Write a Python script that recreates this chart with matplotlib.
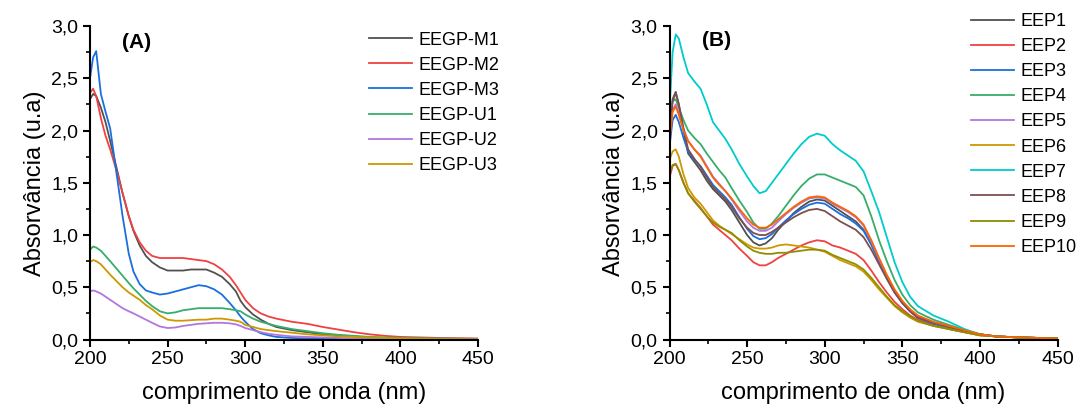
import matplotlib.pyplot as plt
from matplotlib.ticker import MultipleLocator, FuncFormatter

plt.rcParams['font.family'] = ['Liberation Sans', 'DejaVu Sans']

# panel A: EEGP samples
wl_a = [200, 202, 204, 207, 210, 213, 217, 221, 225, 228, 232, 236, 240, 245, 250, 255, 260, 265,
        270, 275, 280, 285, 290, 294, 297, 300, 305, 310, 315, 320, 330, 340, 350, 360, 370, 380,
        390, 400, 425, 450]
m1 = [2.30, 2.35, 2.33, 2.22, 2.08, 1.90, 1.65, 1.40, 1.18, 1.04, 0.90, 0.80, 0.74, 0.69, 0.66, 0.66, 0.66, 0.67,
      0.67, 0.67, 0.64, 0.60, 0.53, 0.46, 0.37, 0.31, 0.24, 0.19, 0.15, 0.12, 0.09, 0.07, 0.05, 0.04, 0.03, 0.02,
      0.015, 0.01, 0.005, 0.0]
m2 = [2.36, 2.40, 2.33, 2.12, 1.95, 1.82, 1.62, 1.40, 1.18, 1.05, 0.93, 0.85, 0.80, 0.78, 0.78, 0.78, 0.78, 0.77,
      0.76, 0.75, 0.72, 0.67, 0.60, 0.52, 0.45, 0.38, 0.30, 0.25, 0.22, 0.20, 0.17, 0.15, 0.12, 0.095, 0.07, 0.05,
      0.035, 0.025, 0.015, 0.01]
m3 = [2.50, 2.70, 2.76, 2.35, 2.18, 2.02, 1.60, 1.18, 0.82, 0.65, 0.53, 0.47, 0.45, 0.43, 0.44, 0.46, 0.48, 0.50,
      0.52, 0.51, 0.48, 0.43, 0.35, 0.28, 0.22, 0.17, 0.10, 0.06, 0.04, 0.025, 0.015, 0.01, 0.01, 0.005, 0.005, 0.0,
      0.0, 0.0, 0.0, 0.0]
u1 = [0.86, 0.89, 0.88, 0.85, 0.80, 0.75, 0.68, 0.61, 0.54, 0.49, 0.43, 0.37, 0.32, 0.27, 0.25, 0.26, 0.28, 0.29,
      0.30, 0.30, 0.30, 0.30, 0.29, 0.28, 0.27, 0.24, 0.20, 0.17, 0.15, 0.13, 0.10, 0.08, 0.06, 0.045, 0.035, 0.025,
      0.02, 0.015, 0.01, 0.005]
u2 = [0.46, 0.47, 0.46, 0.44, 0.41, 0.38, 0.34, 0.30, 0.27, 0.25, 0.22, 0.19, 0.16, 0.125, 0.11, 0.115, 0.13, 0.14,
      0.15, 0.155, 0.16, 0.16, 0.155, 0.145, 0.13, 0.11, 0.09, 0.07, 0.055, 0.045, 0.03, 0.025, 0.02, 0.015, 0.01, 0.01,
      0.005, 0.005, 0.0, 0.0]
u3 = [0.74, 0.76, 0.75, 0.72, 0.67, 0.62, 0.56, 0.50, 0.45, 0.42, 0.38, 0.33, 0.29, 0.23, 0.19, 0.18, 0.18, 0.185,
      0.19, 0.19, 0.20, 0.20, 0.19, 0.18, 0.17, 0.14, 0.12, 0.10, 0.09, 0.08, 0.065, 0.05, 0.04, 0.03, 0.025, 0.02,
      0.015, 0.01, 0.005, 0.0]

# panel B: EEP samples
wl_b = [200, 202, 204, 206, 209, 212, 216, 220, 224, 228, 232, 236, 240, 245, 250, 254, 258, 262,
        266, 270, 275, 280, 285, 290, 295, 300, 305, 310, 315, 320, 325, 330, 335, 340, 345, 350,
        355, 360, 370, 380, 390, 400, 410, 425, 450]
eep1 = [2.00, 2.30, 2.37, 2.25, 2.00, 1.78, 1.70, 1.62, 1.52, 1.44, 1.38, 1.32, 1.24, 1.12, 1.00, 0.93, 0.90, 0.92,
        0.97, 1.05, 1.13, 1.21, 1.27, 1.32, 1.34, 1.33, 1.28, 1.23, 1.18, 1.13, 1.05, 0.91, 0.75, 0.60, 0.46, 0.35,
        0.27, 0.21, 0.15, 0.11, 0.08, 0.05, 0.03, 0.02, 0.01]
eep2 = [1.55, 1.66, 1.68, 1.62, 1.50, 1.40, 1.33, 1.26, 1.18, 1.10, 1.05, 1.00, 0.95, 0.87, 0.80, 0.74, 0.71, 0.71,
        0.74, 0.78, 0.82, 0.86, 0.90, 0.93, 0.95, 0.94, 0.90, 0.88, 0.85, 0.82, 0.76, 0.66, 0.55, 0.45, 0.36, 0.29,
        0.23, 0.19, 0.14, 0.10, 0.07, 0.04, 0.03, 0.02, 0.01]
eep3 = [1.85, 2.10, 2.15, 2.08, 1.93, 1.80, 1.72, 1.66, 1.57, 1.48, 1.42, 1.36, 1.29, 1.17, 1.06, 0.99, 0.96, 0.97,
        1.01, 1.07, 1.14, 1.20, 1.25, 1.29, 1.31, 1.30, 1.25, 1.20, 1.16, 1.11, 1.04, 0.91, 0.75, 0.59, 0.45, 0.35,
        0.27, 0.21, 0.15, 0.11, 0.08, 0.05, 0.03, 0.02, 0.01]
eep4 = [2.10, 2.28, 2.30, 2.22, 2.10, 2.00, 1.93, 1.87, 1.78, 1.70, 1.62, 1.55, 1.45, 1.33, 1.22, 1.12, 1.06, 1.06,
        1.11, 1.18, 1.28, 1.38, 1.47, 1.54, 1.58, 1.58, 1.55, 1.52, 1.49, 1.46, 1.38, 1.18, 0.95, 0.75, 0.57, 0.43,
        0.33, 0.26, 0.19, 0.14, 0.09, 0.05, 0.03, 0.02, 0.01]
eep5 = [1.95, 2.20, 2.25, 2.17, 2.02, 1.90, 1.82, 1.76, 1.66, 1.56, 1.49, 1.42, 1.34, 1.23, 1.13, 1.07, 1.04, 1.04,
        1.07, 1.13, 1.20, 1.26, 1.31, 1.35, 1.36, 1.35, 1.30, 1.26, 1.22, 1.17, 1.09, 0.94, 0.77, 0.61, 0.47, 0.36,
        0.28, 0.22, 0.16, 0.12, 0.08, 0.05, 0.03, 0.02, 0.01]
eep6 = [1.72, 1.80, 1.82, 1.75, 1.58, 1.45, 1.36, 1.30, 1.22, 1.14, 1.09, 1.05, 1.01, 0.96, 0.91, 0.88, 0.87, 0.87,
        0.88, 0.90, 0.91, 0.90, 0.89, 0.88, 0.86, 0.84, 0.80, 0.76, 0.73, 0.70, 0.65, 0.57, 0.48, 0.40, 0.32, 0.26,
        0.21, 0.17, 0.13, 0.10, 0.07, 0.04, 0.03, 0.02, 0.01]
eep7 = [2.20, 2.75, 2.92, 2.88, 2.70, 2.55, 2.47, 2.40, 2.25, 2.08, 2.00, 1.92, 1.82, 1.68, 1.56, 1.47, 1.40, 1.42,
        1.50, 1.58, 1.68, 1.78, 1.87, 1.94, 1.97, 1.95, 1.87, 1.81, 1.76, 1.71, 1.61, 1.42, 1.22, 0.98, 0.74, 0.55,
        0.41, 0.32, 0.23, 0.17, 0.10, 0.05, 0.03, 0.02, 0.01]
eep8 = [1.95, 2.28, 2.36, 2.25, 2.02, 1.82, 1.73, 1.65, 1.55, 1.46, 1.40, 1.34, 1.27, 1.16, 1.07, 1.02, 1.00, 1.00,
        1.03, 1.07, 1.12, 1.17, 1.21, 1.24, 1.25, 1.23, 1.18, 1.13, 1.09, 1.05, 0.98, 0.86, 0.72, 0.58, 0.45, 0.35,
        0.27, 0.21, 0.16, 0.12, 0.08, 0.05, 0.03, 0.02, 0.01]
eep9 = [1.60, 1.67, 1.68, 1.62, 1.50, 1.40, 1.32, 1.25, 1.18, 1.12, 1.08, 1.05, 1.02, 0.95, 0.89, 0.85, 0.83, 0.82,
        0.82, 0.83, 0.83, 0.84, 0.85, 0.86, 0.86, 0.85, 0.81, 0.78, 0.75, 0.72, 0.67, 0.59, 0.50, 0.41, 0.33, 0.27,
        0.22, 0.18, 0.13, 0.10, 0.07, 0.04, 0.03, 0.02, 0.01]
eep10 = [1.90, 2.18, 2.23, 2.15, 2.00, 1.90, 1.82, 1.75, 1.65, 1.55, 1.48, 1.42, 1.35, 1.25, 1.16, 1.10, 1.07, 1.07,
         1.10, 1.15, 1.21, 1.27, 1.32, 1.36, 1.37, 1.36, 1.31, 1.27, 1.23, 1.18, 1.10, 0.95, 0.78, 0.62, 0.48, 0.37,
         0.29, 0.23, 0.17, 0.13, 0.09, 0.05, 0.03, 0.02, 0.01]

labels_a = ['EEGP-M1', 'EEGP-M2', 'EEGP-M3', 'EEGP-U1', 'EEGP-U2', 'EEGP-U3']
labels_b = ['EEP1', 'EEP2', 'EEP3', 'EEP4', 'EEP5', 'EEP6', 'EEP7', 'EEP8', 'EEP9', 'EEP10']
colors = ['#515151', '#F14040', '#1A6FDF', '#37AD6B', '#B177DE', '#CC9900',
          '#00CBCC', '#7D4E4E', '#8E8E00', '#FB6501']

fig = plt.figure(figsize=(10.83, 4.05), dpi=100)
ax1 = fig.add_axes([0.0831, 0.1617, 0.3583, 0.774])
ax2 = fig.add_axes([0.6182, 0.1617, 0.3583, 0.774])

for y, lab, c in zip([m1, m2, m3, u1, u2, u3], labels_a, colors):
    ax1.plot(wl_a, y, color=c, lw=1.3, label=lab)
for y, lab, c in zip([eep1, eep2, eep3, eep4, eep5, eep6, eep7, eep8, eep9, eep10], labels_b, colors):
    ax2.plot(wl_b, y, color=c, lw=1.3, label=lab)

comma = FuncFormatter(lambda v, p: ('%.1f' % v).replace('.', ','))
for ax in (ax1, ax2):
    ax.set_xlim(200, 450)
    ax.set_ylim(0, 3.0)
    ax.xaxis.set_major_locator(MultipleLocator(50))
    ax.xaxis.set_minor_locator(MultipleLocator(25))
    ax.yaxis.set_major_locator(MultipleLocator(0.5))
    ax.yaxis.set_minor_locator(MultipleLocator(0.25))
    ax.yaxis.set_major_formatter(comma)
    ax.spines['top'].set_visible(False)
    ax.spines['right'].set_visible(False)
    for s in ('left', 'bottom'):
        ax.spines[s].set_linewidth(1.5)
    ax.tick_params(which='major', direction='out', length=5, width=1.5, labelsize=14)
    ax.tick_params(which='minor', direction='out', length=3, width=1.2)
    ax.set_xlabel('comprimento de onda (nm)', fontsize=17, labelpad=10)
    ax.set_ylabel('Absorvância (u.a)', fontsize=17, labelpad=4)

fig.text(0.1127, 0.896, '(A)', fontsize=15, fontweight='bold', va='center')
fig.text(0.648, 0.899, '(B)', fontsize=15, fontweight='bold', va='center')

ax1.legend(loc='upper left', bbox_to_anchor=(0.334, 0.94), bbox_transform=fig.transFigure,
           frameon=False, fontsize=13, handlelength=2.4, handletextpad=0.33, labelspacing=0.45,
           borderaxespad=0)
ax2.legend(loc='upper left', bbox_to_anchor=(0.890, 0.986), bbox_transform=fig.transFigure,
           frameon=False, fontsize=13, handlelength=2.4, handletextpad=0.33, labelspacing=0.45,
           borderaxespad=0)

fig.savefig('out.png', dpi=100)
